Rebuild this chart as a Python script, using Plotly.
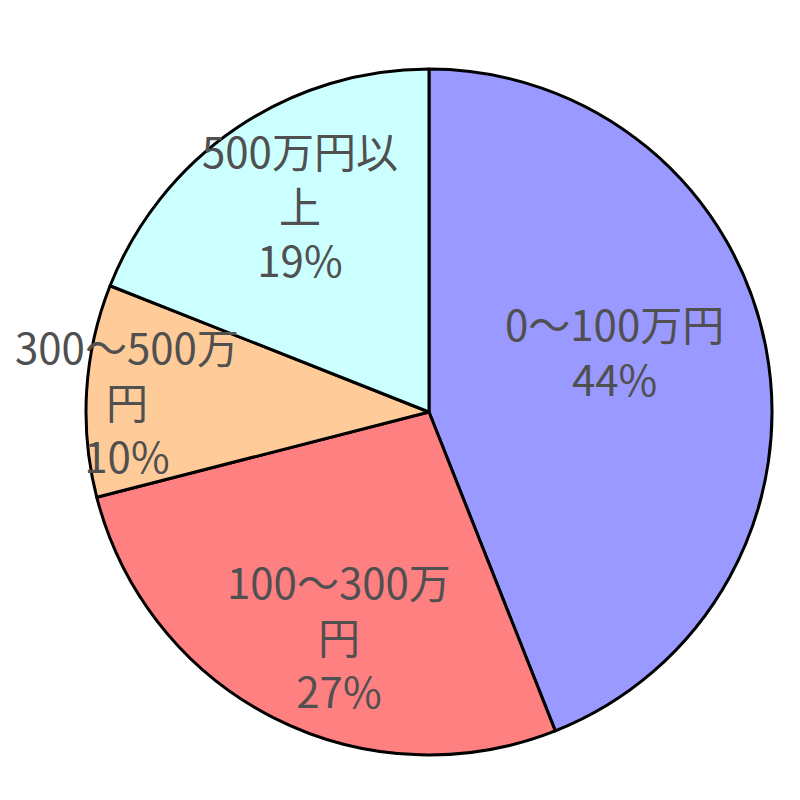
import numpy as np
import plotly.graph_objects as go

# 所得階層別の割合
kategorie = ["0～100万円", "100～300万円", "300～500万円", "500万円以上"]
wariai = [44, 27, 10, 19]
raberu = ["0～100万円<br>44%", "100～300万<br>円<br>27%", "300～500万<br>円<br>10%", "500万円以<br>上<br>19%"]
iro = ["#9999FF", "#FF8080", "#FFCC99", "#CCFFFF"]

# ラベルの置き場所（半径の割合と中央角からのずれ, 度）
label_r = [0.57, 0.70, 0.88, 0.714]
label_d = [-7.6, -5.0, -1.3, 2.4]

# ページ余白 8px を差し引いた図内の座標
cx, cy, r = 421, 404, 343
W = H = 800

fig = go.Figure(
    go.Pie(
        labels=kategorie,
        values=wariai,
        sort=False,
        direction="clockwise",
        rotation=0,
        marker=dict(colors=iro, line=dict(color="black", width=3)),
        textinfo="none",
        hoverinfo="label+percent",
        showlegend=False,
        domain=dict(x=[(cx - r) / W, (cx + r) / W], y=[(H - cy - r) / H, (H - cy + r) / H]),
    )
)

# 扇形の中央角からラベル位置を計算
total = sum(wariai)
cum = np.cumsum([0] + wariai)
for i, txt in enumerate(raberu):
    mid = (cum[i] + wariai[i] / 2) / total * 2 * np.pi + np.radians(label_d[i])
    px_ = cx + label_r[i] * r * np.sin(mid)
    py_ = cy - label_r[i] * r * np.cos(mid)
    fig.add_annotation(
        x=px_ / W,
        y=1 - py_ / H,
        xref="paper",
        yref="paper",
        xanchor="center",
        yanchor="middle",
        text=txt,
        showarrow=False,
        font=dict(family="Noto Sans CJK JP", size=42, color="#505050"),
        align="center",
    )

fig.update_layout(
    width=W,
    height=H,
    margin=dict(l=0, r=0, t=0, b=0),
    paper_bgcolor="white",
    plot_bgcolor="white",
)
fig.write_html("out.html")
